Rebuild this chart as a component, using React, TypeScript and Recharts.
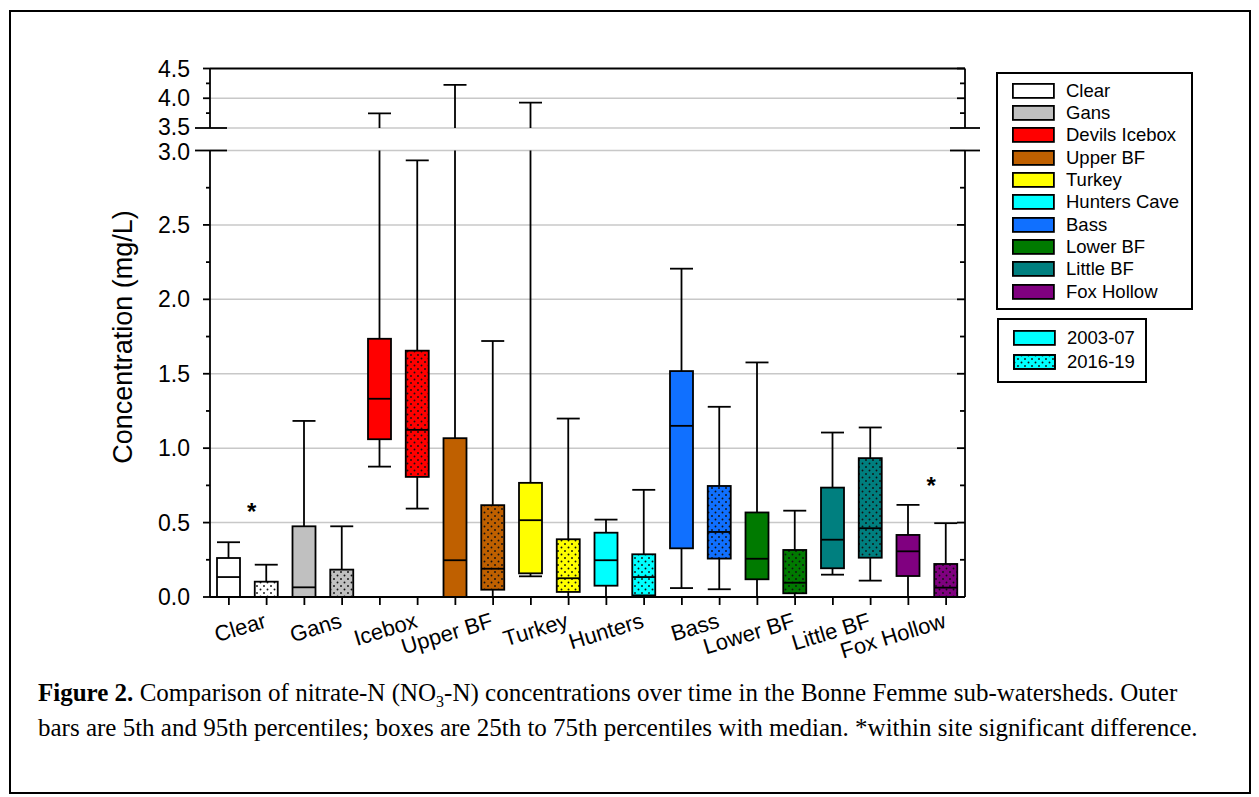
import React from 'react'
import { ComposedChart, Bar, XAxis, YAxis, CartesianGrid, ReferenceLine, ReferenceDot } from 'recharts'

const SITES = ['Clear', 'Gans', 'Icebox', 'Upper BF', 'Turkey', 'Hunters', 'Bass', 'Lower BF', 'Little BF', 'Fox Hollow']
const LEGEND_NAMES = ['Clear', 'Gans', 'Devils Icebox', 'Upper BF', 'Turkey', 'Hunters Cave', 'Bass', 'Lower BF', 'Little BF', 'Fox Hollow']
const SITE_COLORS = ['#FFFFFF', '#C0C0C0', '#FF0000', '#BF6000', '#FFFF00', '#00FFFF', '#1070FF', '#007A00', '#007F7F', '#800080']
const PERIODS = ['2003-07', '2016-19']

// nitrate-N percentiles (mg/L), 2003-07
const P5_EARLY = [0, 0, 0.876, 0, 0.139, 0, 0.06, 0, 0.15, 0]
const P25_EARLY = [0, 0, 1.06, 0, 0.159, 0.076, 0.327, 0.119, 0.193, 0.141]
const P50_EARLY = [0.134, 0.065, 1.332, 0.247, 0.516, 0.247, 1.15, 0.257, 0.385, 0.307]
const P75_EARLY = [0.262, 0.475, 1.735, 1.067, 0.767, 0.432, 1.518, 0.568, 0.735, 0.417]
const P95_EARLY = [0.368, 1.183, 3.747, 4.225, 3.926, 0.52, 2.206, 1.576, 1.105, 0.619]

// nitrate-N percentiles (mg/L), 2016-19
const P5_LATE = [0, 0, 0.594, 0, 0, 0, 0.052, 0, 0.11, 0]
const P25_LATE = [0, 0, 0.807, 0.049, 0.034, 0.011, 0.258, 0.025, 0.264, 0]
const P50_LATE = [0, 0, 1.123, 0.19, 0.126, 0.134, 0.437, 0.096, 0.462, 0.063]
const P75_LATE = [0.103, 0.184, 1.655, 0.617, 0.388, 0.287, 0.746, 0.316, 0.933, 0.222]
const P95_LATE = [0.217, 0.475, 2.934, 1.72, 1.199, 0.72, 1.278, 0.58, 1.139, 0.496]

// sites with a significant within-site difference, and where the star sits
const SIG_SITES = ['Clear', 'Fox Hollow']
const SIG_Y = [0.605, 0.78]

const LOW_TICKS = [0, 0.25, 0.5, 0.75, 1, 1.25, 1.5, 1.75, 2, 2.25, 2.5, 2.75, 3]
const HIGH_TICKS = [3.5, 3.75, 4, 4.25, 4.5]
const LOW_GRID = [0.5, 1, 1.5, 2, 2.5, 3]
const HIGH_GRID = [3.5, 4]

const ROWS = SITES.flatMap((site, i) =>
  PERIODS.map((period, j) => {
    const early = j === 0
    const p5 = early ? P5_EARLY[i] : P5_LATE[i]
    const p95 = early ? P95_EARLY[i] : P95_LATE[i]
    return {
      key: `${site}|${period}`,
      site,
      late: !early,
      color: SITE_COLORS[i],
      p5,
      p25: early ? P25_EARLY[i] : P25_LATE[i],
      p50: early ? P50_EARLY[i] : P50_LATE[i],
      p75: early ? P75_EARLY[i] : P75_LATE[i],
      p95,
      range: [p5, p95]
    }
  })
)

const FONT = '"Liberation Sans", Arial, sans-serif'
const LINE = 1.8
const CHART_W = 1000
const Y_AXIS_W = 210
const R_AXIS_W = 35
const L_TICK = 7
const L_MARGIN = 13
const R_TICK = 8
const R_MARGIN = 2

const isMajor = (v: number) => Math.abs(v * 2 - Math.round(v * 2)) < 1e-6

// whisker + box + median, positioned from the bar's [p5, p95] rectangle
const BoxShape = (props: any) => {
  const { x, y, width, height, payload, patternId } = props
  if (payload == null || height == null) return <g />
  const { p5, p25, p50, p75, p95, color, late } = payload
  const k = height / (p95 - p5)
  const yOf = (v: number) => y + (p95 - v) * k
  const cx = x + width / 2
  const top = yOf(p75)
  const boxH = yOf(p25) - top
  return (
    <g>
      <line x1={cx} x2={cx} y1={yOf(p95)} y2={yOf(p5)} stroke="#000" strokeWidth={LINE} />
      <line x1={x} x2={x + width} y1={yOf(p95)} y2={yOf(p95)} stroke="#000" strokeWidth={LINE} />
      <line x1={x} x2={x + width} y1={yOf(p5)} y2={yOf(p5)} stroke="#000" strokeWidth={LINE} />
      <rect x={x} y={top} width={width} height={boxH} fill={color} stroke="none" />
      {late && <rect x={x} y={top} width={width} height={boxH} fill={`url(#${patternId})`} stroke="none" />}
      <rect x={x} y={top} width={width} height={boxH} fill="none" stroke="#000" strokeWidth={LINE} />
      <line x1={x} x2={x + width} y1={yOf(p50)} y2={yOf(p50)} stroke="#000" strokeWidth={LINE} />
    </g>
  )
}

// labelShift nudges the label at the break so 3.5 and 3.0 don't collide
const LeftTick = (props: any) => {
  const { x, y, payload, breakAt, labelShift = 0 } = props
  const v = payload.value
  const ax = x + L_TICK + L_MARGIN
  const major = isMajor(v)
  const brk = v === breakAt
  return (
    <g>
      <line
        x1={brk ? ax - 15 : ax - (major ? L_TICK : 4)}
        x2={brk ? ax + 17 : ax}
        y1={y}
        y2={y}
        stroke="#000"
        strokeWidth={LINE}
      />
      {major && (
        <text
          x={ax - 20}
          y={y + 8 + (brk ? labelShift : 0)}
          textAnchor="end"
          fontSize={23}
          fontFamily={FONT}
          fill="#000"
        >
          {v.toFixed(1)}
        </text>
      )}
    </g>
  )
}

const RightTick = (props: any) => {
  const { x, y, payload, breakAt } = props
  const v = payload.value
  const ax = x - R_TICK - R_MARGIN
  const brk = v === breakAt
  return (
    <line
      x1={brk ? ax - 15 : ax - (isMajor(v) ? R_TICK : 5)}
      x2={brk ? ax + 15 : ax}
      y1={y}
      y2={y}
      stroke="#000"
      strokeWidth={LINE}
    />
  )
}

// site name under the second box of each pair, slanted
const SiteTick = (props: any) => {
  const { x, y, payload } = props
  const row = ROWS.find(r => r.key === payload.value)
  if (!row || !row.late) return <g />
  const axisY = y - 8 - 2
  const ax = x + 1
  const ay = axisY + 30
  return (
    <text
      x={ax}
      y={ay}
      textAnchor="end"
      fontSize={22}
      fontFamily={FONT}
      fill="#000"
      transform={`rotate(-17 ${ax} ${ay})`}
    >
      {row.site}
    </text>
  )
}

const Star = (props: any) => (
  <text x={props.cx - 15} y={props.cy + 13} textAnchor="middle" fontSize={24} fontWeight="bold" fontFamily={FONT}>
    *
  </text>
)

const Dots = ({ id }: { id: string }) => (
  <defs>
    <pattern id={id} width={7} height={7} patternUnits="userSpaceOnUse">
      <circle cx={1.5} cy={1.5} r={0.95} fill="#111" />
      <circle cx={5} cy={5} r={0.95} fill="#111" />
    </pattern>
  </defs>
)

const Swatch = ({ color, dotted }: { color: string; dotted?: boolean }) => (
  <svg width={43} height={16} style={{ position: 'absolute', left: 0, top: 3 }}>
    <Dots id="legendDots" />
    <rect x={0.9} y={0.9} width={41} height={14} fill={color} stroke="#000" strokeWidth={1.8} />
    {dotted && <rect x={0.9} y={0.9} width={41} height={14} fill="url(#legendDots)" stroke="#000" strokeWidth={1.8} />}
  </svg>
)

const LegendRow = ({ top, left, color, label, dotted }: any) => (
  <div style={{ position: 'absolute', left, top, height: 22, width: 180 }}>
    <Swatch color={color} dotted={dotted} />
    <span
      style={{
        position: 'absolute',
        left: 54,
        top: 0,
        fontFamily: FONT,
        fontSize: 18.5,
        lineHeight: '22px',
        whiteSpace: 'nowrap'
      }}
    >
      {label}
    </span>
  </div>
)

export default function App() {
  return (
    <div style={{ position: 'absolute', left: 0, top: 0, width: 1259, height: 797, background: '#fff' }}>
      <div
        style={{
          position: 'absolute',
          left: 9,
          top: 10,
          width: 1242,
          height: 784,
          border: '2px solid #000',
          boxSizing: 'border-box'
        }}
      />

      {/* upper segment of the broken axis: 3.5 - 4.5 */}
      <div style={{ position: 'absolute', left: 0, top: 0 }}>
        <ComposedChart
          width={CHART_W}
          height={140}
          data={ROWS}
          margin={{ top: 68.5, right: 0, bottom: 12, left: 0 }}
        >
          <Dots id="dotsHigh" />
          <CartesianGrid yAxisId="l" vertical={false} horizontalValues={HIGH_GRID} stroke="#C8C8C8" strokeWidth={1.5} />
          <XAxis dataKey="key" type="category" hide />
          <YAxis
            yAxisId="l"
            width={Y_AXIS_W}
            domain={[3.5, 4.5]}
            ticks={HIGH_TICKS}
            interval={0}
            allowDataOverflow
            axisLine={{ stroke: '#000', strokeWidth: LINE }}
            tickLine={false}
            tickSize={L_TICK}
            tickMargin={L_MARGIN}
            tick={<LeftTick breakAt={3.5} labelShift={-1.5} />}
          />
          <YAxis
            yAxisId="r"
            orientation="right"
            width={R_AXIS_W}
            domain={[3.5, 4.5]}
            ticks={HIGH_TICKS}
            interval={0}
            allowDataOverflow
            axisLine={{ stroke: '#000', strokeWidth: LINE }}
            tickLine={false}
            tickSize={R_TICK}
            tickMargin={R_MARGIN}
            tick={<RightTick breakAt={3.5} />}
          />
          <ReferenceLine yAxisId="l" y={4.5} stroke="#000" strokeWidth={2} />
          <Bar
            yAxisId="l"
            dataKey="range"
            barSize={23}
            isAnimationActive={false}
            shape={(p: any) => <BoxShape {...p} patternId="dotsHigh" />}
          />
        </ComposedChart>
      </div>

      {/* lower segment: 0 - 3.0 */}
      <div style={{ position: 'absolute', left: 0, top: 0 }}>
        <ComposedChart
          width={CHART_W}
          height={700}
          data={ROWS}
          margin={{ top: 150.5, right: 0, bottom: 13, left: 0 }}
        >
          <Dots id="dotsLow" />
          <CartesianGrid yAxisId="l" vertical={false} horizontalValues={LOW_GRID} stroke="#C8C8C8" strokeWidth={1.5} />
          <XAxis
            dataKey="key"
            type="category"
            height={90}
            interval={0}
            axisLine={{ stroke: '#000', strokeWidth: LINE }}
            tickLine={{ stroke: '#000', strokeWidth: LINE }}
            tickSize={8}
            tickMargin={2}
            tick={<SiteTick />}
          />
          <YAxis
            yAxisId="l"
            width={Y_AXIS_W}
            domain={[0, 3]}
            ticks={LOW_TICKS}
            interval={0}
            allowDataOverflow
            axisLine={{ stroke: '#000', strokeWidth: LINE }}
            tickLine={false}
            tickSize={L_TICK}
            tickMargin={L_MARGIN}
            tick={<LeftTick breakAt={3} labelShift={1.5} />}
          />
          <YAxis
            yAxisId="r"
            orientation="right"
            width={R_AXIS_W}
            domain={[0, 3]}
            ticks={LOW_TICKS}
            interval={0}
            allowDataOverflow
            axisLine={{ stroke: '#000', strokeWidth: LINE }}
            tickLine={false}
            tickSize={R_TICK}
            tickMargin={R_MARGIN}
            tick={<RightTick breakAt={3} />}
          />
          <Bar
            yAxisId="l"
            dataKey="range"
            barSize={23}
            isAnimationActive={false}
            shape={(p: any) => <BoxShape {...p} patternId="dotsLow" />}
          />
          {SIG_SITES.map((site, i) => (
            <ReferenceDot
              key={site}
              yAxisId="l"
              x={`${site}|${PERIODS[1]}`}
              y={SIG_Y[i]}
              r={0}
              shape={<Star />}
            />
          ))}
        </ComposedChart>
      </div>

      <svg width={200} height={700} style={{ position: 'absolute', left: 0, top: 0 }}>
        <text
          transform="translate(132 337) rotate(-90)"
          textAnchor="middle"
          fontSize={27}
          fontFamily={FONT}
          fill="#000"
        >
          Concentration (mg/L)
        </text>
      </svg>

      {/* site legend */}
      <div
        style={{
          position: 'absolute',
          left: 996,
          top: 72,
          width: 197,
          height: 238,
          border: '2px solid #000',
          boxSizing: 'border-box'
        }}
      />
      {LEGEND_NAMES.map((name, i) => (
        <LegendRow key={name} left={1012} top={90.7 + i * 22.33 - 11} color={SITE_COLORS[i]} label={name} />
      ))}

      {/* period legend */}
      <div
        style={{
          position: 'absolute',
          left: 997,
          top: 318,
          width: 150,
          height: 65,
          border: '2px solid #000',
          boxSizing: 'border-box'
        }}
      />
      {PERIODS.map((p, i) => (
        <LegendRow key={p} left={1013} top={337.5 + i * 24.3 - 11} color={SITE_COLORS[5]} label={p} dotted={i === 1} />
      ))}

      <div
        style={{
          position: 'absolute',
          left: 38,
          top: 675,
          width: 1200,
          fontFamily: '"Liberation Serif", "Times New Roman", serif',
          fontSize: 25,
          lineHeight: '35px',
          color: '#000',
          whiteSpace: 'nowrap'
        }}
      >
        <b>Figure 2.</b> Comparison of nitrate-N (NO
        <sub style={{ fontSize: 16, lineHeight: 0 }}>3</sub>-N) concentrations over time in the Bonne Femme sub-watersheds. Outer
        <br />
        bars are 5th and 95th percentiles; boxes are 25th to 75th percentiles with median. *within site significant difference.
      </div>
    </div>
  )
}
